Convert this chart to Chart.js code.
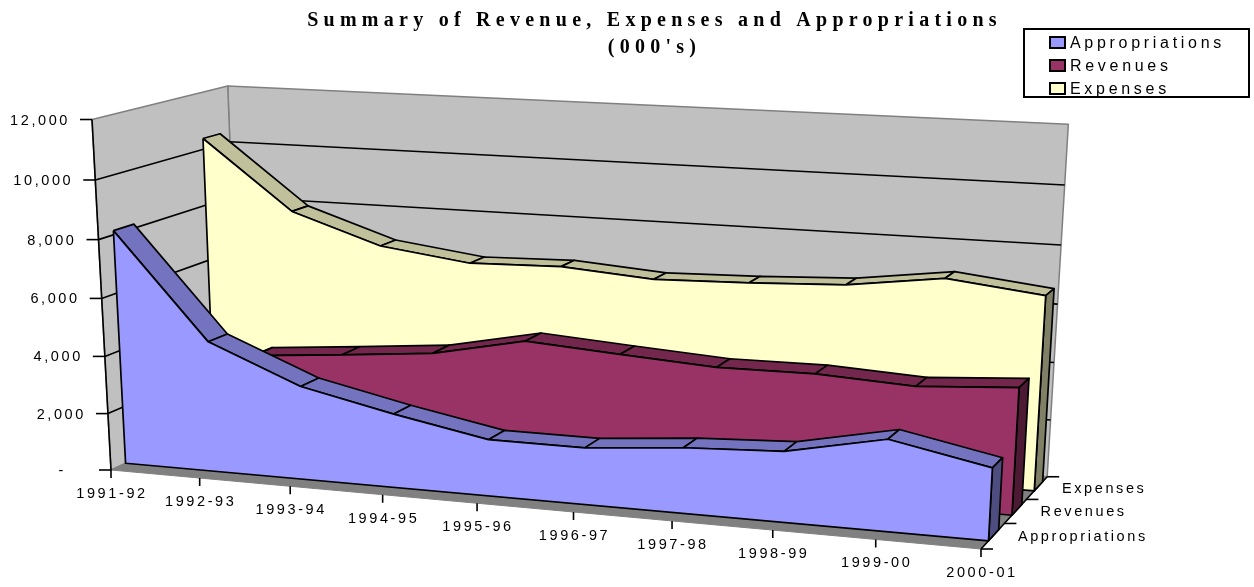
<!DOCTYPE html>
<html>
<head>
<meta charset="utf-8">
<title>Summary of Revenue, Expenses and Appropriations</title>
<script src="https://cdn.jsdelivr.net/npm/chart.js@4"></script>
<style>
  html, body { margin: 0; background: #fff; }
  #wrap { position: relative; width: 1254px; height: 587px; overflow: hidden; }
  #legend { position: absolute; left: 1023px; top: 28px; width: 223px; height: 66px; border: 2px solid #000; }
  #legend div { position: absolute; left: 45px; font: 16px "Liberation Sans", sans-serif; letter-spacing: 3.7px; line-height: 20px; white-space: nowrap; }
  #legend i { position: absolute; left: -21px; top: 3px; width: 13px; height: 9px; border: 2px solid #000; }
</style>
</head>
<body>
<div id="wrap">
  <canvas id="chart" width="1254" height="587"></canvas>
  <div id="legend"></div>
</div>
<script>
const categories = ['1991-92', '1992-93', '1993-94', '1994-95', '1995-96', '1996-97', '1997-98', '1998-99', '1999-00', '2000-01'];
const seriesNames = ['Appropriations', 'Revenues', 'Expenses'];
const appropriations = [8140, 4540, 3240, 2545, 1935, 1930, 2210, 2365, 3040, 2385];
const revenues = [1900, 3400, 3670, 3960, 4620, 4400, 4200, 4225, 4055, 4270];
const expenses = [10380, 7960, 6920, 6510, 6595, 6360, 6445, 6590, 7025, 6660];
const valueTicks = [0, 2000, 4000, 6000, 8000, 10000, 12000];
const titleLines = ['Summary of Revenue, Expenses and Appropriations', "(000's)"];

// projection of the 3d box: origin + 3 axis ends (pixels) and the perspective weights
const O = [111, 470], U = [981, 549], V = [92, 119.5], W = [240.1, 410.1];
const P = -0.092, Q = -0.041, R = 0.0855;
const VALUE_MAX = 12000;
// title block height and left padding (the title sits right of the canvas centre), scales start there
const TOP_OFFSET = 61;
const LEFT_OFFSET = 55;

function project(u, value, w) {
  const v = value / VALUE_MAX;
  const d = 1 + P * u + Q * v + R * w;
  const at = k => (O[k] + (U[k] * (1 + P) - O[k]) * u + (V[k] * (1 + Q) - O[k]) * v + (W[k] * (1 + R) - O[k]) * w) / d;
  return { x: at(0), y: at(1) };
}

function face(points, fill, opts = {}) {
  return {
    label: opts.label || '',
    data: [...points, points[0]],
    showLine: true,
    fill: 'shape',
    backgroundColor: fill,
    borderColor: opts.border || '#000',
    borderWidth: opts.width === undefined ? 1.7 : opts.width,
    borderJoinStyle: 'round',
    pointRadius: 0,
    pointHoverRadius: 0,
    clip: false,
  };
}

function stroke(points, color = '#000', width = 1.6) {
  return { data: points, showLine: true, fill: false, borderColor: color, borderWidth: width, pointRadius: 0, pointHoverRadius: 0, clip: false };
}

function seriesFaces(name, values, w0, w1, colors) {
  const xAt = i => i / (categories.length - 1);
  const last = values.length - 1;
  const out = [];
  for (let i = 0; i < last; i++) {
    out.push(face([
      project(xAt(i), values[i], w0), project(xAt(i), values[i], w1),
      project(xAt(i + 1), values[i + 1], w1), project(xAt(i + 1), values[i + 1], w0),
    ], colors.top));
  }
  out.push(face([
    project(1, values[last], w0), project(1, values[last], w1),
    project(1, 0, w1), project(1, 0, w0),
  ], colors.side));
  const front = values.map((val, i) => project(xAt(i), val, w0));
  front.push(project(1, 0, w0), project(0, 0, w0));
  out.push(face(front, colors.front, { label: name }));
  return out;
}

const datasets = [];
// walls and floor
datasets.push(face([project(0, 0, 1), project(1, 0, 1), project(1, VALUE_MAX, 1), project(0, VALUE_MAX, 1)], '#c0c0c0', { border: '#808080', width: 1.5 }));
datasets.push(face([project(0, 0, 0), project(0, 0, 1), project(0, VALUE_MAX, 1), project(0, VALUE_MAX, 0)], '#c0c0c0', { border: '#808080', width: 1.5 }));
datasets.push(face([project(0, 0, 0), project(1, 0, 0), project(1, 0, 1), project(0, 0, 1)], '#808080', { border: '#808080', width: 1 }));
valueTicks.filter(t => t > 0 && t < VALUE_MAX).forEach(t => {
  datasets.push(stroke([project(0, t, 0), project(0, t, 1), project(1, t, 1)]));
});
// axis lines and tick marks
datasets.push(stroke([project(0, VALUE_MAX, 0), project(0, 0, 0)]));
valueTicks.forEach(t => {
  const p = project(0, t, 0);
  datasets.push(stroke([{ x: p.x - 12, y: p.y }, p]));
});
categories.forEach((c, i) => {
  const p = project(i / (categories.length - 1), 0, 0);
  datasets.push(stroke([p, { x: p.x, y: p.y + 8 }]));
});
datasets.push(stroke([project(1, 0, 0), project(1, 0, 1)]));
[0, 1 / 3, 2 / 3, 1].forEach(w => {
  const p = project(1, 0, w);
  datasets.push(stroke([p, { x: p.x + 12, y: p.y }]));
});
// series, back to front
datasets.push(...seriesFaces(seriesNames[2], expenses, 0.79, 0.925, { front: '#ffffcc', top: '#c0c09b', side: '#808066' }));
datasets.push(...seriesFaces(seriesNames[1], revenues, 0.445, 0.595, { front: '#993366', top: '#73274d', side: '#4d1a33' }));
datasets.push(...seriesFaces(seriesNames[0], appropriations, 0.105, 0.25, { front: '#9999ff', top: '#7373bf', side: '#4d4d80' }));
// chart.js paints the first dataset last
datasets.reverse();

const axisText = {
  id: 'axisText',
  beforeDraw(chart) {
    chart.ctx.letterSpacing = '5.26px'; // picked up by the title block
  },
  afterDraw(chart) {
    const ctx = chart.ctx;
    ctx.save();
    ctx.fillStyle = '#000';
    ctx.font = '14.5px "Liberation Sans", sans-serif';
    ctx.letterSpacing = '2.6px';
    ctx.textBaseline = 'middle';

    ctx.textAlign = 'right';
    valueTicks.forEach(t => {
      const p = project(0, t, 0);
      const label = t === 0 ? '-' : t.toLocaleString('en-US');
      ctx.fillText(label, t === 0 ? p.x - 45 : p.x - 22, p.y + 1);
    });

    ctx.textAlign = 'center';
    categories.forEach((c, i) => {
      const p = project(i / (categories.length - 1), 0, 0);
      ctx.fillText(c, p.x + 1, p.y + 24);
    });

    ctx.textAlign = 'left';
    seriesNames.forEach((name, i) => {
      const p = project(1, 0, (i + 0.5) / 3);
      ctx.fillText(name, p.x + 25, p.y + 1);
    });
    ctx.restore();
  },
};

new Chart(document.getElementById('chart'), {
  type: 'scatter',
  data: { datasets },
  options: {
    responsive: false,
    animation: false,
    layout: { padding: { left: LEFT_OFFSET } },
    scales: {
      x: { type: 'linear', min: LEFT_OFFSET, max: 1254, display: false },
      y: { type: 'linear', min: TOP_OFFSET, max: 587, reverse: true, display: false },
    },
    plugins: {
      legend: { display: false },
      tooltip: { enabled: false },
      title: {
        display: true,
        text: titleLines,
        color: '#000',
        font: { family: '"Liberation Serif", serif', size: 20, weight: 'bold', lineHeight: 27 / 20 },
        padding: { top: 7, bottom: 0 },
      },
    },
  },
  plugins: [axisText],
});

// html legend
const swatches = ['#9999ff', '#993366', '#ffffcc'];
const legendEl = document.getElementById('legend');
seriesNames.forEach((name, i) => {
  const row = document.createElement('div');
  row.style.top = (3 + i * 23) + 'px';
  row.innerHTML = '<i style="background:' + swatches[i] + '"></i>' + name;
  legendEl.appendChild(row);
});
</script>
</body>
</html>
